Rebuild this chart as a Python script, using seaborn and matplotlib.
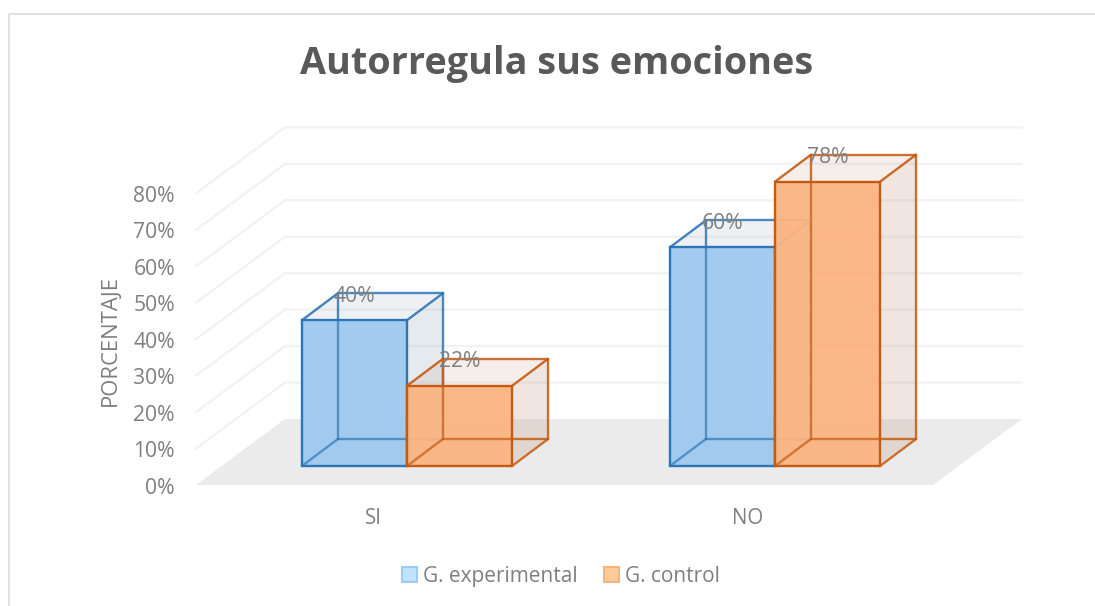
import matplotlib

matplotlib.use("Agg")
import matplotlib.pyplot as plt
import pandas as pd
import seaborn as sns
from matplotlib.patches import Patch, Polygon, Rectangle

categories = ["SI", "NO"]
groups = ["G. experimental", "G. control"]
experimental = [40, 60]
control = [22, 78]
value_ticks = [0, 10, 20, 30, 40, 50, 60, 70, 80]

W, H = 1095, 606
PX_PER_CAT = 368.0
PX_PER_PCT = 3.645
CAT0_PX = 407.0
BASE_PX = 466.0

# bar depth and floor geometry, all in pixels
BAR_DX, BAR_DY = 36, 27
FLOOR_LEFT, FLOOR_RIGHT = 196, 933
FLOOR_DROP = 19
WALL_DX, WALL_DY = 89, 66
CAT_LABEL_PX = [373, 748]

TEXT = "#7f7f7f"
FONT = "Open Sans"

sns.set_theme(style="white")
plt.rcParams["font.family"] = [FONT, "DejaVu Sans"]


def px_x(px):
    return (px - CAT0_PX) / PX_PER_CAT


def px_y(px):
    return (BASE_PX - px) / PX_PER_PCT


df = pd.DataFrame(
    {
        "categoria": categories * 2,
        "grupo": [groups[0]] * 2 + [groups[1]] * 2,
        "valor": experimental + control,
    }
)

fig = plt.figure(figsize=(W / 100, H / 100), dpi=100, facecolor="white")
ax = fig.add_axes([0, 0, 1, 1])

palette = {groups[0]: "#9fc9ef", groups[1]: "#fbb482"}
edges = {groups[0]: "#2e75b6", groups[1]: "#c55a11"}
sns.barplot(
    data=df,
    x="categoria",
    y="valor",
    hue="grupo",
    hue_order=groups,
    order=categories,
    palette=palette,
    width=0.571,
    gap=0,
    saturation=1,
    legend=False,
    ax=ax,
)

ax.set_xlim(px_x(0), px_x(W))
ax.set_ylim(px_y(H), px_y(0))
ax.axis("off")

dx = BAR_DX / PX_PER_CAT
dy = BAR_DY / PX_PER_PCT
floor_y = px_y(BASE_PX + FLOOR_DROP)
wall_dx = WALL_DX / PX_PER_CAT
wall_dy = WALL_DY / PX_PER_PCT
label_shift = 3 / PX_PER_PCT

# floor
x0, x1 = px_x(FLOOR_LEFT), px_x(FLOOR_RIGHT)
ax.add_patch(
    Polygon(
        [
            (x0, floor_y),
            (x1, floor_y),
            (x1 + wall_dx, floor_y + wall_dy),
            (x0 + wall_dx, floor_y + wall_dy),
        ],
        closed=True,
        fc="#ebebeb",
        ec="none",
        zorder=1,
    )
)

# wall gridlines, the 0% one is the floor edge
for v in value_ticks[1:]:
    y = floor_y + v
    ax.plot(
        [x0, x0 + wall_dx, x1 + wall_dx],
        [y, y + wall_dy, y + wall_dy],
        color="#f2f2f2",
        lw=1.6,
        zorder=1.5,
    )


def draw_box(bar, fill, edge, tint, zorder):
    """Adds the depth faces and edges around a seaborn bar."""
    xa = bar.get_x()
    xb = xa + bar.get_width()
    h = bar.get_height()
    faces = [
        # back, left, bottom
        ([(xa + dx, dy), (xb + dx, dy), (xb + dx, h + dy), (xa + dx, h + dy)], 0.1),
        ([(xa, 0), (xa + dx, dy), (xa + dx, h + dy), (xa, h)], 0.1),
        ([(xa, 0), (xb, 0), (xb + dx, dy), (xa + dx, dy)], 0.12),
        # top, right
        ([(xa, h), (xb, h), (xb + dx, h + dy), (xa + dx, h + dy)], 0.08),
        ([(xb, 0), (xb + dx, dy), (xb + dx, h + dy), (xb, h)], 0.18),
    ]
    for pts, alpha in faces:
        ax.add_patch(
            Polygon(pts, closed=True, fc=tint, ec="none", alpha=alpha, zorder=zorder)
        )

    ax.add_patch(
        Rectangle(
            (xa, 0),
            bar.get_width(),
            h,
            fc=fill,
            ec="none",
            alpha=0.95,
            zorder=zorder + 0.1,
        )
    )
    bar.set_visible(False)

    # hidden edges show through the front face
    for xs, ys, alpha in [
        ([xa + dx, xa + dx], [dy, h], 0.7),
        ([xa + dx, xb], [dy, dy], 0.7),
        ([xb, xb + dx], [dy, dy], 0.85),
        ([xa, xa + dx], [0, dy], 0.7),
        ([xb, xb + dx], [0, dy], 0.85),
        ([xb + dx, xb + dx], [dy, h + dy], 0.85),
        ([xa + dx, xa + dx], [h, h + dy], 0.85),
        ([xa, xa + dx], [h, h + dy], 0.9),
        ([xb, xb + dx], [h, h + dy], 0.9),
        ([xa + dx, xb + dx], [h + dy, h + dy], 0.85),
    ]:
        ax.plot(
            xs,
            ys,
            color=edge,
            lw=1.7,
            alpha=alpha,
            solid_capstyle="round",
            zorder=zorder + 0.2,
        )

    ax.add_patch(
        Rectangle(
            (xa, 0), bar.get_width(), h, fc="none", ec=edge, lw=1.7, zorder=zorder + 0.3
        )
    )


tints = {groups[0]: "#9fb2c5", groups[1]: "#c8a18a"}
z = 2.0
for c_idx in range(len(categories)):
    for group, container in zip(groups, ax.containers):
        draw_box(container[c_idx], palette[group], edges[group], tints[group], z)
        z += 1

# data labels sit on the back top edge of each box
for group, container in zip(groups, ax.containers):
    for bar, value in zip(container, df[df["grupo"] == group]["valor"]):
        ax.text(
            bar.get_x() + bar.get_width() / 2,
            value + dy - label_shift,
            f"{value}%",
            ha="center",
            va="center",
            fontsize=15.2,
            color="#808080",
            zorder=50,
        )

# value axis labels
for v in value_ticks:
    ax.text(
        px_x(175),
        floor_y + v - label_shift,
        f"{v}%",
        ha="right",
        va="center",
        fontsize=15.2,
        color=TEXT,
    )

# category labels
for cat, cat_px in zip(categories, CAT_LABEL_PX):
    ax.text(
        px_x(cat_px),
        px_y(518),
        cat,
        ha="center",
        va="center",
        fontsize=14.8,
        color=TEXT,
    )

ax.text(
    px_x(110),
    px_y(340),
    "PORCENTAJE",
    rotation=90,
    ha="center",
    va="center",
    fontsize=15.8,
    color=TEXT,
)

ax.text(
    px_x(557),
    px_y(64),
    "Autorregula sus emociones",
    ha="center",
    va="center",
    fontsize=27.2,
    fontweight="bold",
    color="#595959",
)

# chart frame
ax.plot(
    [px_x(9), px_x(9), px_x(W)],
    [px_y(H), px_y(14), px_y(14)],
    color="#dedede",
    lw=1.3,
)

handles = [
    Patch(fc="#bfe4ff", ec="#9ccbf3", lw=1.5, label=groups[0]),
    Patch(fc="#ffcc99", ec="#f5b57f", lw=1.5, label=groups[1]),
]
ax.legend(
    handles=handles,
    loc="center",
    bbox_to_anchor=(561 / W, 1 - 576.5 / H),
    ncol=2,
    frameon=False,
    fontsize=15,
    labelcolor=TEXT,
    handlelength=0.72,
    handleheight=0.72,
    handletextpad=0.29,
    columnspacing=1.25,
    borderpad=0,
)

fig.savefig("out.png", dpi=100)
